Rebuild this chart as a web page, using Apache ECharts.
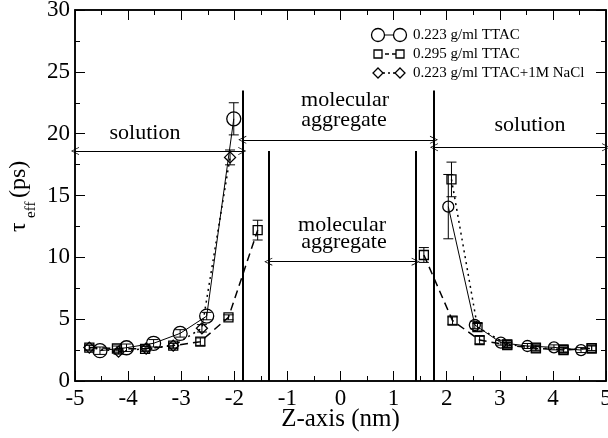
<!DOCTYPE html>
<html>
<head>
<meta charset="utf-8">
<script src="https://cdn.jsdelivr.net/npm/echarts@6/dist/echarts.min.js"></script>
<style>
  html, body { margin: 0; padding: 0; background: #fff; }
  #chart { width: 608px; height: 438px; }
</style>
</head>
<body>
<div id="chart"></div>
<script>
// 0.223 g/ml TTAC (circles, solid)
const x1 = [-4.53, -4.03, -3.52, -3.02, -2.52, -2.01, null, 2.03, 2.53, 3.02, 3.52, 4.02, 4.53];
const y1 = [2.45, 2.69, 3.05, 3.85, 5.25, 21.2, null, 14.1, 4.53, 3.1, 2.83, 2.72, 2.5];
const e1 = [0.3, 0.3, 0.3, 0.3, 0.3, 1.3, null, 2.6, 0.3, 0.2, 0.2, 0.2, 0.2];
// 0.295 g/ml TTAC (squares, dashed)
const x2 = [-4.73, -4.21, -3.68, -3.15, -2.64, -2.11, -1.56, null, 1.57, 2.11, 2.62, 3.14, 3.68, 4.2, 4.73];
const y2 = [2.7, 2.63, 2.6, 2.86, 3.18, 5.15, 12.2, null, 10.19, 4.88, 3.31, 2.91, 2.64, 2.5, 2.64];
const e2 = [0.2, 0.2, 0.2, 0.2, 0.3, 0.2, 0.8, null, 0.6, 0.3, 0.3, 0.2, 0.2, 0.2, 0.2];
// 0.223 g/ml TTAC+1M NaCl (diamonds, dotted)
const x3 = [-4.73, -4.18, -3.66, -3.15, -2.61, -2.08, null, 2.09, 2.58, 3.14, 3.68, 4.2, 4.73];
const y3 = [2.7, 2.37, 2.63, 2.86, 4.26, 18.08, null, 16.3, 4.35, 2.95, 2.7, 2.55, 2.65];
const e3 = [0.2, 0.2, 0.2, 0.2, 0.3, 0.6, null, 1.4, 0.3, 0.2, 0.2, 0.2, 0.2];

const legendNames = ['0.223 g/ml TTAC', '0.295 g/ml TTAC', '0.223 g/ml TTAC+1M NaCl'];
const xTicks = [-5, -4, -3, -2, -1, 0, 1, 2, 3, 4, 5];
const yTicks = [0, 5, 10, 15, 20, 25, 30];

// region boundaries [x, top y]
const walls = [[-1.85, 23.5], [-1.36, 18.6], [1.415, 18.6], [1.76, 23.5]];
// arrows [x from, x to, y]
const arrows = [[-5, -1.85, 18.6], [-1.85, 1.76, 19.5], [1.76, 5, 18.9], [-1.36, 1.415, 9.65]];

const FONT = '"Liberation Serif", "DejaVu Serif", serif';

function lineData(xs, ys, sym, symR) {
    const out = [];
    xs.forEach((x, i) => {
        if (x === null) { out.push('-'); return; }
        out.push({ value: [x, ys[i]], symbol: sym(x), symbolSize: symR(x) });
    });
    return out;
}
function errData(xs, ys, es) {
    const out = [];
    xs.forEach((x, i) => { if (x !== null) out.push([x, ys[i], es[i]]); });
    return out;
}
function renderErr(params, api) {
    const x = api.value(0), y = api.value(1), e = api.value(2);
    const top = api.coord([x, y + e]);
    const bot = api.coord([x, y - e]);
    const st = { stroke: '#000', lineWidth: 1 };
    return {
        type: 'group',
        children: [
            { type: 'line', shape: { x1: top[0], y1: top[1], x2: bot[0], y2: bot[1] }, style: st },
            { type: 'line', shape: { x1: top[0] - 5, y1: top[1], x2: top[0] + 5, y2: top[1] }, style: st },
            { type: 'line', shape: { x1: bot[0] - 5, y1: bot[1], x2: bot[0] + 5, y2: bot[1] }, style: st }
        ]
    };
}

const markerStyle = { color: 'transparent', borderColor: '#000', borderWidth: 1.3 };
const chevron = 'path://M0,10 L5,0 L10,10 L9,10 L5,2 L1,10 Z';

const wallLines = walls.map(w => [{ coord: [w[0], 0] }, { coord: [w[0], w[1]] }]);
const arrowLines = arrows.map(a => [{ coord: [a[0], a[2]] }, { coord: [a[1], a[2]] }]);

function axis(extra) {
    return Object.assign({
        type: 'value',
        axisLine: { show: true, onZero: false, lineStyle: { color: '#000', width: 1.5 } },
        axisTick: { show: true, inside: true, length: 10, lineStyle: { color: '#000', width: 1 } },
        minorTick: { show: true, splitNumber: 2, length: 5, lineStyle: { color: '#000', width: 1 } },
        splitLine: { show: false }
    }, extra);
}

const chart = echarts.init(document.getElementById('chart'));
chart.setOption({
    animation: false,
    backgroundColor: '#fff',
    grid: {
        left: 75, right: 2, top: 10, bottom: 57, outerBoundsMode: 'none', containLabel: false,
        show: true, borderColor: '#000', borderWidth: 1.5, backgroundColor: 'transparent'
    },
    xAxis: [
        axis({
            min: xTicks[0], max: xTicks[xTicks.length - 1], interval: 1,
            name: 'Z-axis (nm)', nameLocation: 'middle', nameGap: 26, nameMoveOverlap: false,
            nameTextStyle: { fontFamily: FONT, fontSize: 25, color: '#000' },
            axisLabel: { fontFamily: FONT, fontSize: 23, color: '#000', margin: 6 }
        }),
        axis({
            position: 'top', min: xTicks[0], max: xTicks[xTicks.length - 1], interval: 1,
            axisLabel: { show: false }
        })
    ],
    yAxis: [
        axis({
            min: yTicks[0], max: yTicks[yTicks.length - 1], interval: 5,
            axisLabel: { fontFamily: FONT, fontSize: 23, color: '#000', margin: 5 }
        }),
        axis({
            position: 'right', min: yTicks[0], max: yTicks[yTicks.length - 1], interval: 5,
            axisLabel: { show: false }
        })
    ],
    series: [
        {
            name: legendNames[0], type: 'line', z: 4,
            data: lineData(x1, y1, () => 'circle', x => x > 0 ? 11 : 14),
            lineStyle: { color: '#000', width: 1 },
            itemStyle: markerStyle
        },
        {
            name: legendNames[1], type: 'line', z: 3,
            data: lineData(x2, y2, () => 'rect', () => 9),
            lineStyle: { color: '#000', width: 1.5, type: [8, 5] },
            itemStyle: markerStyle
        },
        {
            name: legendNames[2], type: 'line', z: 3,
            data: lineData(x3, y3, x => x > 0 ? 'rect' : 'diamond', x => x > 0 ? 9 : 11),
            lineStyle: { color: '#000', width: 1.5, type: [2, 4] },
            itemStyle: markerStyle,
            markLine: {
                silent: true, symbol: 'none', animation: false,
                label: { show: false },
                lineStyle: { color: '#000', width: 2, type: 'solid' },
                data: wallLines
            }
        },
        {
            type: 'line', data: [], silent: true,
            markLine: {
                silent: true, symbol: [chevron, chevron], symbolSize: [8, 8], animation: false,
                label: { show: false },
                itemStyle: { color: '#000' },
                lineStyle: { color: '#000', width: 1, type: 'solid' },
                data: arrowLines
            }
        },
        { type: 'custom', z: 5, renderItem: renderErr, encode: { x: 0, y: 1 }, data: errData(x1, y1, e1) },
        { type: 'custom', z: 5, renderItem: renderErr, encode: { x: 0, y: 1 }, data: errData(x2, y2, e2) },
        { type: 'custom', z: 5, renderItem: renderErr, encode: { x: 0, y: 1 }, data: errData(x3, y3, e3) }
    ],
    graphic: [
        // y axis title
        {
            type: 'group', x: 31, y: 232, rotation: Math.PI / 2,
            children: [
                { type: 'text', x: 0, y: 0, style: { text: 'τ', font: '24px ' + FONT, fill: '#000', verticalAlign: 'bottom' } },
                { type: 'text', x: 14, y: 8, style: { text: 'eff', font: '15px ' + FONT, fill: '#000', verticalAlign: 'bottom' } },
                { type: 'text', x: 34, y: 0, style: { text: '(ps)', font: '24px ' + FONT, fill: '#000', verticalAlign: 'bottom' } }
            ]
        },
        // region labels
        { type: 'text', x: 145, y: 133, style: { text: 'solution', font: '22px ' + FONT, fill: '#000', align: 'center', verticalAlign: 'middle' } },
        { type: 'text', x: 530, y: 125, style: { text: 'solution', font: '22px ' + FONT, fill: '#000', align: 'center', verticalAlign: 'middle' } },
        { type: 'text', x: 345, y: 100, style: { text: 'molecular', font: '22px ' + FONT, fill: '#000', align: 'center', verticalAlign: 'middle' } },
        { type: 'text', x: 344, y: 120, style: { text: 'aggregate', font: '22px ' + FONT, fill: '#000', align: 'center', verticalAlign: 'middle' } },
        { type: 'text', x: 342, y: 225, style: { text: 'molecular', font: '22px ' + FONT, fill: '#000', align: 'center', verticalAlign: 'middle' } },
        { type: 'text', x: 344, y: 242, style: { text: 'aggregate', font: '22px ' + FONT, fill: '#000', align: 'center', verticalAlign: 'middle' } },
        // legend
        { type: 'line', shape: { x1: 378, y1: 35, x2: 400, y2: 35 }, style: { stroke: '#000', lineWidth: 1 } },
        { type: 'circle', shape: { cx: 378, cy: 35, r: 6.5 }, style: { fill: '#fff', stroke: '#000', lineWidth: 1.3 } },
        { type: 'circle', shape: { cx: 400, cy: 35, r: 6.5 }, style: { fill: '#fff', stroke: '#000', lineWidth: 1.3 } },
        { type: 'text', x: 413, y: 35, style: { text: legendNames[0], font: '15px ' + FONT, fill: '#000', verticalAlign: 'middle' } },
        { type: 'line', shape: { x1: 378, y1: 54, x2: 400, y2: 54 }, style: { stroke: '#000', lineWidth: 1.5, lineDash: [4, 3] } },
        { type: 'rect', shape: { x: 374, y: 50, width: 8, height: 8 }, style: { fill: '#fff', stroke: '#000', lineWidth: 1.3 } },
        { type: 'rect', shape: { x: 396, y: 50, width: 8, height: 8 }, style: { fill: '#fff', stroke: '#000', lineWidth: 1.3 } },
        { type: 'text', x: 413, y: 54, style: { text: legendNames[1], font: '15px ' + FONT, fill: '#000', verticalAlign: 'middle' } },
        { type: 'line', shape: { x1: 378, y1: 73, x2: 400, y2: 73 }, style: { stroke: '#000', lineWidth: 1.5, lineDash: [2, 3] } },
        { type: 'polygon', shape: { points: [[378, 68], [383, 73], [378, 78], [373, 73]] }, style: { fill: '#fff', stroke: '#000', lineWidth: 1.3 } },
        { type: 'polygon', shape: { points: [[400, 68], [405, 73], [400, 78], [395, 73]] }, style: { fill: '#fff', stroke: '#000', lineWidth: 1.3 } },
        { type: 'text', x: 413, y: 73, style: { text: legendNames[2], font: '15px ' + FONT, fill: '#000', verticalAlign: 'middle' } }
    ]
});
</script>
</body>
</html>
